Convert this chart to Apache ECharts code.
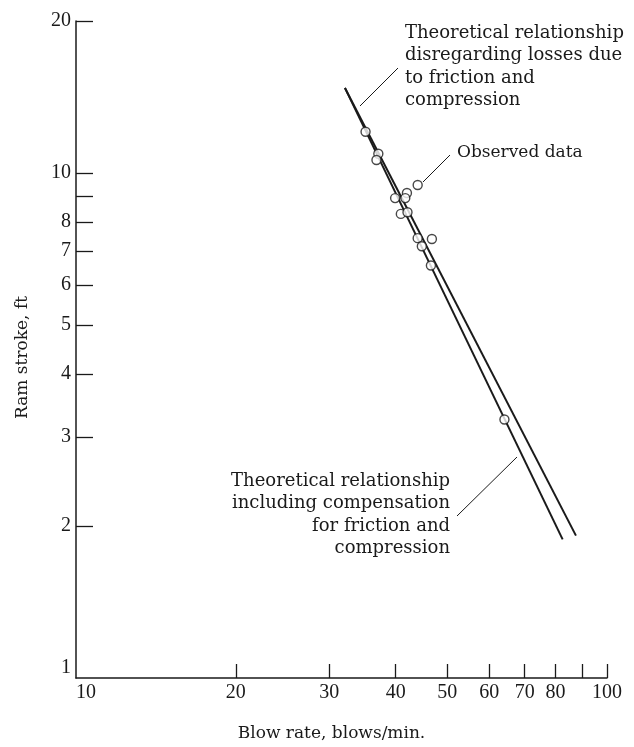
<!DOCTYPE html>
<html>
<head>
<meta charset="utf-8">
<script src="https://cdn.jsdelivr.net/npm/echarts@6/dist/echarts.min.js"></script>
<style>
html,body{margin:0;padding:0;background:#fff;}
#chart{width:634px;height:747px;}
</style>
</head>
<body>
<div id="chart"></div>
<script>
// Observed data (blow rate, blows/min ; ram stroke, ft)
const blowRateObs = [35.1, 37.1, 36.8, 44.0, 42.0, 39.9, 41.7, 40.9, 42.1, 44.0, 46.8, 44.8, 46.6, 64.1];
const strokeObs   = [12.07, 10.92, 10.61, 9.47, 9.13, 8.92, 8.92, 8.30, 8.36, 7.43, 7.40, 7.16, 6.56, 3.25];

// Theoretical relationship disregarding losses
const disregardRate   = [32.1, 87.4];
const disregardStroke = [14.74, 1.914];
// Theoretical relationship including compensation
const includeRate   = [32.1, 82.5];
const includeStroke = [14.74, 1.882];

// Ticks and labels
const xTickValues  = [20, 30, 40, 50, 60, 70, 80, 90, 100];
const xLabelValues = [10, 20, 30, 40, 50, 60, 70, 80, 100];
const yTickValues  = [2, 3, 4, 5, 6, 7, 8, 9, 10, 20];
const yLabelValues = [1, 2, 3, 4, 5, 6, 7, 8, 10, 20];

const zip = (a, b) => a.map((v, i) => [v, b[i]]);

const serif = 'DejaVu Serif';
const tickFont = 'Liberation Serif';
const ink = '#1a1a1a';

const chart = echarts.init(document.getElementById('chart'), null, {renderer: 'canvas'});

const option = {
  backgroundColor: '#fff',
  animation: false,
  grid: {left: 76, right: 27, top: 21, bottom: 65, containLabel: false},
  xAxis: {
    type: 'log', logBase: 10, min: 10, max: 100,
    name: 'Blow rate, blows/min.',
    nameLocation: 'middle', nameGap: 47,
    nameTextStyle: {fontFamily: serif, fontSize: 17, color: ink, padding: [0, 20, 0, 0]},
    axisLine: {show: true, lineStyle: {color: ink, width: 1.5}},
    axisTick: {show: true, inside: true, length: 14, customValues: xTickValues, lineStyle: {color: ink, width: 1.3}},
    axisLabel: {show: true, customValues: xLabelValues, margin: 5, fontFamily: tickFont, fontSize: 20, color: ink,
      alignMinLabel: 'left', formatter: v => String(Math.round(v))},
    splitLine: {show: false},
    minorTick: {show: false}
  },
  yAxis: {
    type: 'log', logBase: 10, min: 1, max: 20,
    name: 'Ram stroke, ft',
    nameLocation: 'middle', nameGap: 45,
    nameTextStyle: {fontFamily: serif, fontSize: 17, color: ink, padding: [0, 16, 0, 0]},
    axisLine: {show: true, lineStyle: {color: ink, width: 1.5}},
    axisTick: {show: true, inside: true, length: 17, customValues: yTickValues, lineStyle: {color: ink, width: 1.3}},
    axisLabel: {show: true, customValues: yLabelValues, margin: 5, fontFamily: tickFont, fontSize: 20, color: ink,
      verticalAlignMinLabel: 'bottom', formatter: v => String(Math.round(v))},
    splitLine: {show: false},
    minorTick: {show: false}
  },
  series: [
    {
      name: 'Disregarding losses', type: 'line', data: zip(disregardRate, disregardStroke),
      symbol: 'none', lineStyle: {color: ink, width: 2}, z: 2
    },
    {
      name: 'Including compensation', type: 'line', data: zip(includeRate, includeStroke),
      symbol: 'none', lineStyle: {color: ink, width: 2}, z: 2
    },
    {
      name: 'Observed data', type: 'scatter', data: zip(blowRateObs, strokeObs),
      symbol: 'circle', symbolSize: 9,
      itemStyle: {color: '#fff', borderColor: ink, borderWidth: 1.4}, z: 5
    }
  ],
  graphic: [
    // leader lines
    {type: 'line', shape: {x1: 360, y1: 106, x2: 398, y2: 68}, style: {stroke: ink, lineWidth: 1}},
    {type: 'line', shape: {x1: 423, y1: 182, x2: 450, y2: 155}, style: {stroke: ink, lineWidth: 1}},
    {type: 'line', shape: {x1: 457, y1: 516, x2: 517, y2: 457}, style: {stroke: ink, lineWidth: 1}},
    // annotation texts
    {type: 'text', x: 405, y: 67, style: {
      text: 'Theoretical relationship\ndisregarding losses due\nto friction and\ncompression',
      font: '18px "DejaVu Serif"', fill: ink, align: 'left', verticalAlign: 'middle', lineHeight: 22.5}},
    {type: 'text', x: 457, y: 153, style: {
      text: 'Observed data', font: '17px "DejaVu Serif"', fill: ink, align: 'left', verticalAlign: 'middle'}},
    {type: 'text', x: 450, y: 515, style: {
      text: 'Theoretical relationship\nincluding compensation\nfor friction and\ncompression',
      font: '18px "DejaVu Serif"', fill: ink, align: 'right', verticalAlign: 'middle', lineHeight: 22.5}}
  ]
};

chart.setOption(option);
</script>
</body>
</html>
